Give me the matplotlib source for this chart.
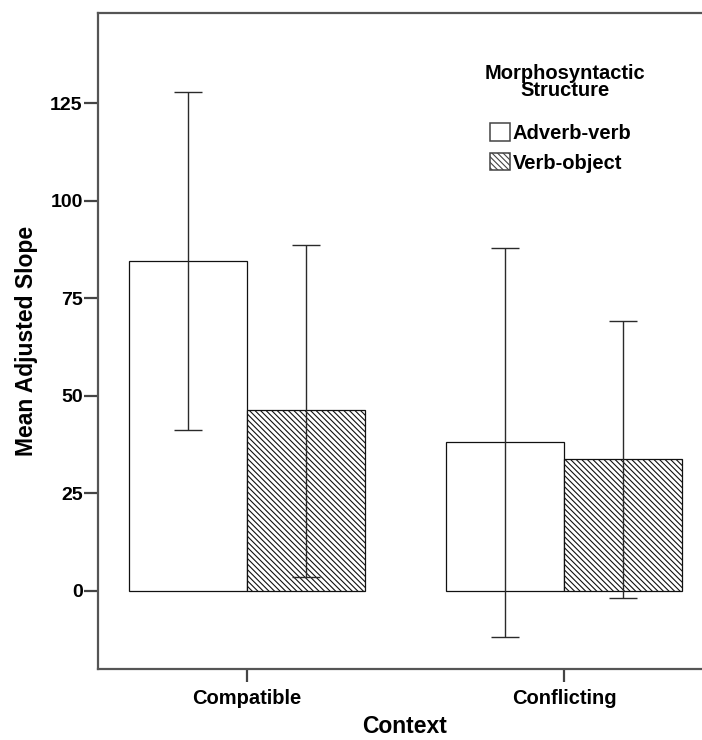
import matplotlib
matplotlib.use("Agg")
import matplotlib.pyplot as plt
import numpy as np

# values
contexts = ["Compatible", "Conflicting"]
structures = ["Adverb-verb", "Verb-object"]
means = {
    "Adverb-verb": [84.5, 38.1],
    "Verb-object": [46.2, 33.7],
}
ci_low = {
    "Adverb-verb": [41.2, -11.8],
    "Verb-object": [3.5, -1.8],
}
ci_high = {
    "Adverb-verb": [127.8, 87.9],
    "Verb-object": [88.7, 69.2],
}
yticks = [0, 25, 50, 75, 100, 125]

plt.rcParams['font.family'] = ['Liberation Sans', 'DejaVu Sans']
plt.rcParams['font.weight'] = 'bold'
plt.rcParams['hatch.linewidth'] = 0.8
plt.rcParams['hatch.color'] = '#222222'

fig = plt.figure(figsize=(7.02, 7.40), dpi=100)
ax = fig.add_axes([0.1396, 0.0964, 0.876, 0.8856])

x = np.arange(len(contexts))
w = 0.372
offsets = [-w / 2, w / 2]
hatches = ['', '\\' * 6]

for s, off, h in zip(structures, offsets, hatches):
    m = np.array(means[s])
    lo = m - np.array(ci_low[s])
    hi = np.array(ci_high[s]) - m
    ax.bar(x + off, m, width=w, color='white', edgecolor='#111111',
           linewidth=0.9, hatch=h, label=s, zorder=2)
    ax.errorbar(x + off, m, yerr=[lo, hi], fmt='none', ecolor='#2a2a2a',
                elinewidth=1.0, capsize=10.4, capthick=1.0, zorder=3)

ax.set_xlim(-0.469, 1.469)
ax.set_ylim(-20, 148)
ax.set_yticks(yticks)
ax.set_xticks(x)
ax.set_xticklabels(contexts, fontsize=14.5, fontweight='bold')
ax.tick_params(axis='y', labelsize=14, length=10, width=1.6, pad=1,
               color='#444444')
ax.tick_params(axis='x', length=9, width=1.6, pad=6, color='#444444')
for sp in ax.spines.values():
    sp.set_linewidth(1.6)
    sp.set_color('#555555')
ax.spines['right'].set_visible(False)

ax.set_ylabel("Mean Adjusted Slope", fontsize=16.5, fontweight='bold')
ax.yaxis.set_label_coords(-0.097, 0.5)
ax.set_xlabel("Context", fontsize=16.5, fontweight='bold')
ax.xaxis.set_label_coords(0.498, -0.070)

fig.text(565 / 702, 1 - 82 / 740, "Morphosyntactic\nStructure", fontsize=14.5,
         fontweight='bold', ha='center', va='center', linespacing=0.85)
leg = ax.legend(frameon=False, loc='upper left',
                bbox_to_anchor=(490 / 702, 1 - 123 / 740),
                bbox_transform=fig.transFigure, fontsize=14.5,
                borderpad=0, borderaxespad=0,
                handlelength=0.97, handleheight=0.97, handletextpad=0.15,
                labelspacing=0.5)
for p in leg.get_patches():
    p.set_edgecolor('#444444')
    p.set_linewidth(1.1)

fig.savefig("out.png", dpi=100)
